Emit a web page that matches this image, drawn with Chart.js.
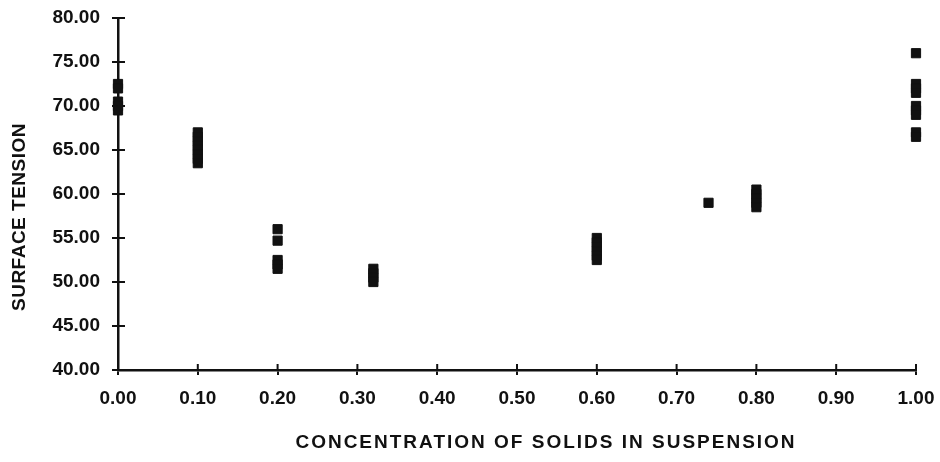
<!DOCTYPE html>
<html>
<head>
<meta charset="utf-8">
<script src="https://cdn.jsdelivr.net/npm/chart.js@4/dist/chart.umd.min.js"></script>
<style>
  html, body { margin: 0; padding: 0; background: #fff; }
  #grafico-box { width: 940px; height: 462px; position: relative; }
</style>
</head>
<body>
<div id="grafico-box"><canvas id="graficoTensao"></canvas></div>
<script>
// Dados (concentração x tensão superficial)
const concentracao = [
  0, 0, 0, 0, 0,
  0.1, 0.1, 0.1, 0.1, 0.1, 0.1, 0.1, 0.1,
  0.2, 0.2, 0.2, 0.2, 0.2,
  0.32, 0.32, 0.32, 0.32,
  0.6, 0.6, 0.6, 0.6, 0.6, 0.6,
  0.74,
  0.8, 0.8, 0.8, 0.8, 0.8,
  1, 1, 1, 1, 1, 1, 1, 1, 1
];
const tensao = [
  72.5, 72, 70.5, 70, 69.5,
  67, 66.5, 66, 65.5, 65, 64.5, 64, 63.5,
  56, 54.7, 52.5, 52, 51.5,
  51.5, 51, 50.5, 50,
  55, 54.5, 54, 53.5, 53, 52.5,
  59,
  60.5, 60, 59.5, 59, 58.5,
  76, 72.5, 72, 71.5, 70, 69.5, 69, 67, 66.5
];

// Marcas dos eixos
const ticksX = [0, 0.1, 0.2, 0.3, 0.4, 0.5, 0.6, 0.7, 0.8, 0.9, 1];
const ticksY = [40, 45, 50, 55, 60, 65, 70, 75, 80];

const tituloX = 'CONCENTRATION OF SOLIDS IN SUSPENSION';
const tituloY = 'SURFACE TENSION';

const fonte = '"Liberation Sans", Arial, sans-serif';
const preto = '#111';

// Pontos a partir dos arrays
const pontos = concentracao.map((x, i) => ({ x: x, y: tensao[i] }));

// Plugin: tracinhos para dentro do gráfico + títulos dos eixos
const pluginEixos = {
  id: 'eixosExtras',
  afterDraw(chart) {
    const ctx = chart.ctx;
    const area = chart.chartArea;
    const sx = chart.scales.x;
    const sy = chart.scales.y;

    ctx.save();
    ctx.strokeStyle = preto;
    ctx.lineWidth = 2;
    ctx.beginPath();
    ticksX.forEach(v => {
      const px = sx.getPixelForValue(v);
      ctx.moveTo(px, area.bottom);
      ctx.lineTo(px, area.bottom - 6);
    });
    ticksY.forEach(v => {
      const py = sy.getPixelForValue(v);
      ctx.moveTo(area.left, py);
      ctx.lineTo(area.left + 7, py);
    });
    ctx.stroke();

    // Títulos
    ctx.fillStyle = preto;
    ctx.font = 'bold 19px ' + fonte;
    ctx.textAlign = 'center';
    ctx.textBaseline = 'middle';
    ctx.letterSpacing = '2px';
    ctx.fillText(tituloX, 546, 443);

    ctx.translate(20, 217);
    ctx.rotate(-Math.PI / 2);
    ctx.letterSpacing = '0.5px';
    ctx.fillText(tituloY, 0, 0);
    ctx.restore();
  }
};

const ctx = document.getElementById('graficoTensao').getContext('2d');
const grafico = new Chart(ctx, {
  type: 'scatter',
  data: {
    datasets: [{
      label: 'Surface tension',
      data: pontos,
      clip: false,
      pointStyle: 'rect',
      pointRadius: 6.5,
      pointBorderWidth: 1,
      backgroundColor: preto,
      borderColor: preto
    }]
  },
  options: {
    responsive: true,
    maintainAspectRatio: false,
    animation: false,
    layout: {
      padding: { top: 18, right: 24, bottom: 0, left: 0 }
    },
    plugins: {
      legend: { display: false },
      tooltip: { enabled: false }
    },
    scales: {
      x: {
        type: 'linear',
        min: ticksX[0],
        max: ticksX[ticksX.length - 1],
        afterBuildTicks: (scale) => { scale.ticks = ticksX.map(v => ({ value: v })); },
        afterFit: (scale) => {
          scale.height = 92;
          scale.paddingLeft = 0;
          scale.paddingRight = 0;
        },
        border: { display: true, color: preto, width: 2.5 },
        grid: { drawOnChartArea: false, drawTicks: true, tickLength: 5, color: preto, lineWidth: 2 },
        ticks: {
          color: preto,
          padding: 12,
          maxRotation: 0,
          font: { family: fonte, size: 19, weight: 'bold' },
          callback: (v) => Number(v).toFixed(2)
        }
      },
      y: {
        type: 'linear',
        min: ticksY[0],
        max: ticksY[ticksY.length - 1],
        afterBuildTicks: (scale) => { scale.ticks = ticksY.map(v => ({ value: v })); },
        afterFit: (scale) => {
          scale.width = 118;
          scale.paddingTop = 0;
          scale.paddingBottom = 0;
        },
        border: { display: true, color: preto, width: 2.5 },
        grid: { drawOnChartArea: false, drawTicks: true, tickLength: 6, color: preto, lineWidth: 2 },
        ticks: {
          color: preto,
          padding: 12,
          font: { family: fonte, size: 19, weight: 'bold' },
          callback: (v) => Number(v).toFixed(2)
        }
      }
    }
  },
  plugins: [pluginEixos]
});
</script>
</body>
</html>
